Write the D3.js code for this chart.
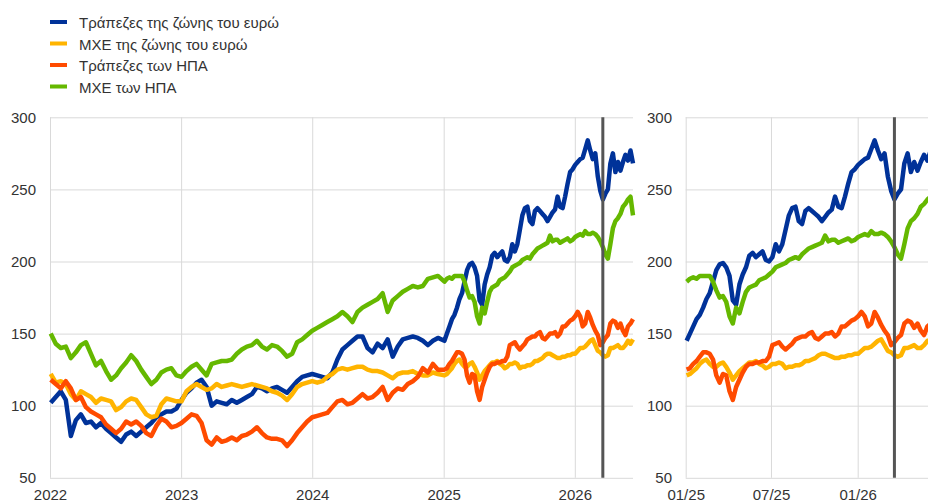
<!DOCTYPE html>
<html>
<head>
<meta charset="utf-8">
<script src="https://cdn.jsdelivr.net/npm/d3@7"></script>
<style>
body { margin: 0; background: #fff; }
text { font-family: Arial, "Liberation Sans", sans-serif; }
</style>
</head>
<body>
<div id="chart-area"></div>
<script>
// series names (legend order)
var seriesNames = ["Τράπεζες της ζώνης του ευρώ", "ΜΧΕ της ζώνης του ευρώ", "Τράπεζες των ΗΠΑ", "ΜΧΕ των ΗΠΑ"];
var seriesColors = ["#003299", "#ffb400", "#ff4b00", "#65b800"];

// dates: fortnightly 2022-2024, weekly from 2025
var earlyStart = new Date(2022, 0, 3), earlyCount = 78, earlyStepDays = 14;
var lateStart = new Date(2025, 0, 3), lateCount = 76, lateStepDays = 7;

// values (index, start = 100)
var euroBanks = [
    102,106,110,104,79,90,94,88,89,85,88,84,81,78,75,80,82,79,82,85,88,92,94,96,96,98,
    104,109,112,116,118,113,100,103,102,101,104,102,104,106,108,113,112,110,112,113,111,109,113,117,120,121,
    122,121,120,119,123,132,139,142,145,148,148,140,137,143,140,146,134,141,146,147,148,147,145,142,145,147,
    145,150,155,160,163,168,174,178,186,194,
    198,199,196,190,173,170,184,191,196,204,
    206,203,205,207,201,200,203,212,207,212,
    222,232,237,238,228,226,235,237,235,233,
    231,228,231,234,236,245,238,237,245,254,
    262,264,267,269,271,272,278,284,277,271,
    275,259,249,243,247,250,268,275,262,269,
    263,269,274,270,277,268
];
var euroNfc = [
    122,116,117,115,108,104,110,108,106,102,105,104,103,97,99,103,105,104,99,94,92,93,101,105,104,103,
    103,110,113,115,113,111,112,115,113,114,115,114,113,114,115,114,113,112,110,109,107,104,108,113,115,116,
    117,116,117,120,122,125,126,125,126,127,127,125,124,124,123,121,119,122,123,123,124,122,121,121,123,122,
    121,122,124,126,129,131,132,129,127,127,
    129,130,127,123,118,121,124,126,128,130,
    130,131,129,128,126,127,129,129,130,129,
    126,127,127,128,128,129,131,131,132,133,
    135,136,136,135,134,133,133,134,134,135,
    135,136,136,138,140,140,141,143,145,146,
    142,138,137,135,134,135,140,140,141,142,
    140,140,142,145,143,146
];
var usBanks = [
    118,115,112,117,112,104,106,99,96,94,92,87,84,81,84,89,87,89,86,81,79,86,91,89,85,86,
    88,91,94,93,88,76,73,78,75,76,78,76,79,80,82,85,81,78,77,77,76,72,76,81,85,89,
    92,93,94,95,99,103,104,101,102,105,108,105,106,109,113,104,109,112,111,115,117,120,126,123,129,125,
    125,126,129,131,134,137,137,136,132,121,
    116,122,121,110,104,113,118,123,127,129,
    129,130,130,131,131,134,142,143,144,141,
    139,141,143,146,147,148,148,150,151,147,
    146,148,150,150,151,148,150,155,155,157,
    159,160,162,165,162,155,157,165,161,156,
    152,149,142,144,147,149,157,159,158,154,
    157,152,149,155,157,160
];
var usNfc = [
    150,143,140,141,133,137,142,144,136,128,131,124,118,121,126,130,135,131,125,120,115,118,123,125,126,121,
    120,124,127,129,125,121,129,130,131,131,132,136,139,141,142,145,141,139,142,141,138,134,136,144,146,149,
    152,154,156,158,160,162,165,162,158,165,168,170,172,174,178,165,173,176,179,181,183,182,183,188,189,190,
    186,188,189,188,190,190,190,190,186,180,
    175,176,172,162,157,168,164,172,179,182,
    183,184,187,188,189,191,193,196,197,198,
    199,201,202,203,202,205,207,209,210,211,
    212,213,218,214,215,215,213,214,215,216,
    214,215,217,218,219,218,221,219,219,220,
    219,217,214,210,205,202,212,223,228,230,
    233,238,240,243,245,232
];

var yTicks = [50, 100, 150, 200, 250, 300];
var leftTicks = [new Date(2022,0,1), new Date(2023,0,1), new Date(2024,0,1), new Date(2025,0,1), new Date(2026,0,1)];
var rightTicks = [new Date(2025,0,1), new Date(2025,6,1), new Date(2026,0,1)];
var markerDate = new Date(2026, 2, 20);

var width = 928, height = 501;
var plotTop = 117.3, plotBottom = 477.8;

var svg = d3.select("#chart-area").append("svg")
    .attr("width", width)
    .attr("height", height);

var dates = d3.range(earlyCount).map((i) => d3.timeDay.offset(earlyStart, i * earlyStepDays))
    .concat(d3.range(lateCount).map((i) => d3.timeDay.offset(lateStart, i * lateStepDays)));
var allSeries = [euroBanks, euroNfc, usBanks, usNfc].map((vals, i) => {
    return {
        name: seriesNames[i],
        color: seriesColors[i],
        values: vals.map((v, j) => ({ date: dates[j], value: v }))
    };
});
var endDate = dates[dates.length - 1];

var y = d3.scaleLinear().domain([50, 300]).range([plotBottom, plotTop]);

function panel(x, ticks, fmt, labelX, startDate) {
    var x0 = x.range()[0], x1 = x.range()[1];
    var g = svg.append("g");

    // horizontal grid
    g.append("g")
        .attr("class", "grid")
        .attr("transform", "translate(" + x0 + ",0)")
        .call(d3.axisLeft(y).tickValues(yTicks).tickSize(-(x1 - x0)).tickFormat(""))
        .call((s) => s.select(".domain").remove());
    // vertical grid
    g.append("g")
        .attr("class", "grid")
        .attr("transform", "translate(0," + plotBottom + ")")
        .call(d3.axisBottom(x).tickValues(ticks).tickSize(-(plotBottom - plotTop)).tickFormat(""))
        .call((s) => s.select(".domain").remove());
    g.selectAll(".grid line").attr("stroke", "#d9d9d9").attr("stroke-width", 1);

    // y labels
    g.append("g")
        .attr("transform", "translate(" + labelX + ",0)")
        .call(d3.axisLeft(y).tickValues(yTicks).tickSize(0).tickPadding(0))
        .call((s) => s.select(".domain").remove())
        .selectAll("text")
        .attr("font-size", "15px")
        .attr("fill", "#333");

    // x labels
    g.append("g")
        .attr("transform", "translate(0," + plotBottom + ")")
        .call(d3.axisBottom(x).tickValues(ticks).tickSize(0).tickPadding(11.5).tickFormat(d3.timeFormat(fmt)))
        .call((s) => s.select(".domain").remove())
        .selectAll("text")
        .attr("font-size", "15px")
        .attr("fill", "#333");

    var line = d3.line()
        .x((d) => x(d.date))
        .y((d) => y(d.value));

    g.selectAll(".series")
        .data(allSeries)
        .enter()
        .append("path")
        .attr("fill", "none")
        .attr("stroke", (d) => d.color)
        .attr("stroke-width", 4.5)
        .attr("stroke-linejoin", "round")
        .attr("d", (d) => line(d.values.filter((p) => p.date >= startDate)));

    // marker line
    g.append("line")
        .attr("x1", x(markerDate))
        .attr("x2", x(markerDate))
        .attr("y1", plotTop)
        .attr("y2", plotBottom)
        .attr("stroke", "#555")
        .attr("stroke-width", 3);
}

var xLeft = d3.scaleTime().domain([new Date(2022, 0, 1), endDate]).range([50, 633]);
var xRight = d3.scaleTime().domain([new Date(2025, 0, 1), endDate]).range([685.7, 934]);

panel(xLeft, leftTicks, "%Y", 36, new Date(2022, 0, 1));
panel(xRight, rightTicks, "%m/%y", 672, new Date(2025, 0, 1));

// legend
var legend = svg.append("g").attr("transform", "translate(50,0)");
seriesNames.forEach((name, i) => {
    var base = 28 + i * 21.5;
    legend.append("rect")
        .attr("x", 0)
        .attr("y", base - 8)
        .attr("width", 17)
        .attr("height", 4)
        .attr("fill", seriesColors[i]);
    legend.append("text")
        .attr("x", 29)
        .attr("y", base)
        .attr("font-size", "15px")
        .attr("fill", "#333")
        .text(name);
});
</script>
</body>
</html>
